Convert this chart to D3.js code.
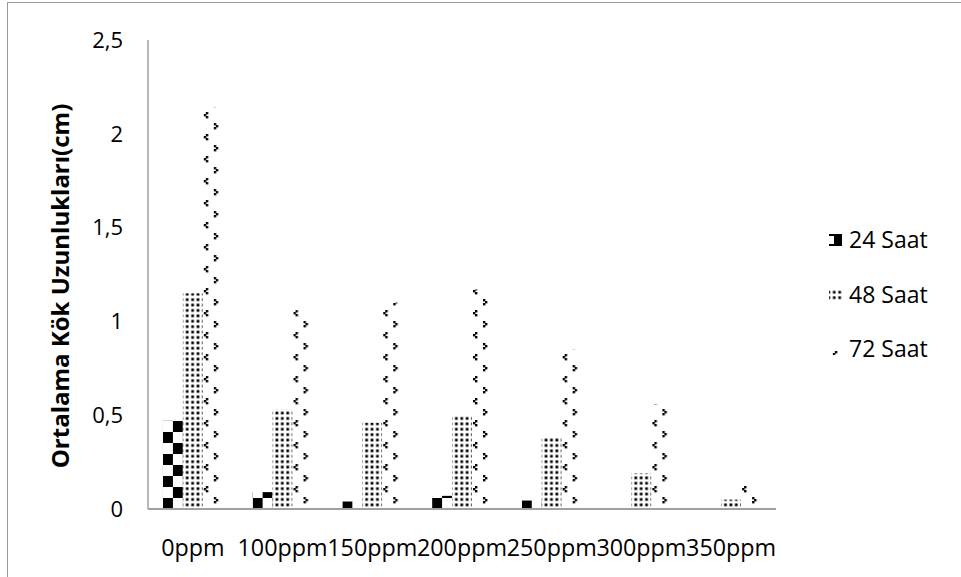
<!DOCTYPE html>
<html><head><meta charset="utf-8">
<script src="https://cdn.jsdelivr.net/npm/d3@7"></script>
<style>
body{margin:0;background:#fff}
svg{display:block}
text{font-family:"Open Sans",sans-serif;fill:#000}
</style>
</head><body>
<script>
// Root length (cm) by concentration and exposure time
const categories = ["0ppm","100ppm","150ppm","200ppm","250ppm","300ppm","350ppm"];
const seriesNames = ["24 Saat","48 Saat","72 Saat"];
const saat24 = [0.47, 0.09, 0.04, 0.07, 0.045, 0.005, 0];
const saat48 = [1.15, 0.53, 0.46, 0.50, 0.38, 0.19, 0.05];
const saat72 = [2.14, 1.06, 1.10, 1.17, 0.85, 0.56, 0.14];
const yTicks = [0, 0.5, 1, 1.5, 2, 2.5];
const yTickLabels = ["0","0,5","1","1,5","2","2,5"];
const yTitle = "Ortalama Kök Uzunlukları(cm)";

const W = 961, H = 577;
const plot = {x0: 148, x1: 776, y0: 509, y1: 40};
const seriesValues = [saat24, saat48, saat72];

const svg = d3.select("body").append("svg").attr("width", W).attr("height", H);
const defs = svg.append("defs");

// outer chart frame
svg.append("rect").attr("x", 7.5).attr("y", 2.5).attr("width", 1200).attr("height", 1200)
  .attr("fill", "none").attr("stroke", "#9a9a9a").attr("stroke-width", 1);

const x0 = d3.scaleBand().domain(categories).range([plot.x0, plot.x1])
  .paddingInner(1/3).paddingOuter(1/6);
const x1 = d3.scaleBand().domain(seriesNames).range([0, x0.bandwidth()]);
const y = d3.scaleLinear().domain([0, 2.5]).range([plot.y0, plot.y1]);

const bw = x1.bandwidth();
const cellW = bw / 2, cellH = 11;

// Patterns use each bar group's own coordinate space, so every bar
// starts its tiling at the same relative spot.
// checkerboard for the 24 h series, anchored to the bar's bottom-left corner
{
  const p = defs.append("pattern").attr("id", "chk")
    .attr("patternUnits", "userSpaceOnUse")
    .attr("x", x1(seriesNames[0])).attr("y", y(0) - cellH)
    .attr("width", cellW * 2).attr("height", cellH * 2);
  p.append("rect").attr("width", cellW * 2).attr("height", cellH * 2).attr("fill", "#fff");
  p.append("rect").attr("x", 0).attr("y", 0).attr("width", cellW).attr("height", cellH).attr("fill", "#000");
  p.append("rect").attr("x", cellW).attr("y", cellH).attr("width", cellW).attr("height", cellH).attr("fill", "#000");
}

// dotted grid for the 48 h series
const dp = defs.append("pattern").attr("id", "dots")
  .attr("patternUnits", "userSpaceOnUse").attr("width", 5.4).attr("height", 5.4);
dp.append("rect").attr("width", 5.4).attr("height", 5.4).attr("fill", "#fff");
dp.append("rect").attr("x", 1.3).attr("y", 1.3).attr("width", 2.7).attr("height", 2.7).attr("fill", "#000");

// staggered chevrons for the 72 h series
const cp = defs.append("pattern").attr("id", "chev")
  .attr("patternUnits", "userSpaceOnUse").attr("x", x1(seriesNames[2]) - 2).attr("y", 0)
  .attr("width", 22).attr("height", 22);
cp.append("rect").attr("width", 22).attr("height", 22).attr("fill", "#fff");
const dot = (g, dx, dy) => g.append("rect").attr("x", dx).attr("y", dy)
  .attr("width", 2.4).attr("height", 2.4).attr("fill", "#000");
// "<" mark
dot(cp, 5, 2); dot(cp, 3, 4); dot(cp, 5, 6);
// ">" mark
dot(cp, 13, 13); dot(cp, 15, 15); dot(cp, 13, 17);

const fills = ["url(#chk)", "url(#dots)", "url(#chev)"];

// bars
const groups = svg.append("g").selectAll("g").data(categories).join("g")
  .attr("transform", d => `translate(${x0(d)},0)`);
groups.selectAll("rect")
  .data((c, ci) => seriesNames.map((s, si) => ({s, si, v: seriesValues[si][ci]})))
  .join("rect")
  .attr("x", d => x1(d.s))
  .attr("y", d => y(d.v))
  .attr("width", bw)
  .attr("height", d => y(0) - y(d.v))
  .attr("fill", d => fills[d.si]);

// axes
const axisColor = "#a0a0a0";
svg.append("line").attr("x1", plot.x0).attr("x2", plot.x0)
  .attr("y1", plot.y1).attr("y2", plot.y0)
  .attr("stroke", axisColor).attr("stroke-width", 1.5);
svg.append("line").attr("x1", plot.x0).attr("x2", plot.x1)
  .attr("y1", plot.y0).attr("y2", plot.y0)
  .attr("stroke", axisColor).attr("stroke-width", 2);

svg.append("g").selectAll("text").data(yTicks).join("text")
  .attr("x", 123).attr("y", d => y(d))
  .attr("dy", "0.35em")
  .attr("text-anchor", "end")
  .style("font-size", "22px")
  .text((d, i) => yTickLabels[i]);

svg.append("g").selectAll("text").data(categories).join("text")
  .attr("x", d => x0(d) + x0.bandwidth() / 2).attr("y", 556)
  .attr("text-anchor", "middle")
  .style("font-size", "23.3px")
  .text(d => d);

svg.append("text")
  .attr("transform", `translate(69,286) rotate(-90)`)
  .attr("text-anchor", "middle")
  .style("font-size", "24px").style("font-weight", "bold")
  .text(yTitle);

// legend
const legY = [240, 295, 349];
const leg = svg.append("g").selectAll("g").data(seriesNames).join("g")
  .attr("transform", (d, i) => `translate(0,${legY[i]})`);
leg.filter((d, i) => i > 0).append("rect")
  .attr("x", 829).attr("y", -6).attr("width", 13).attr("height", 12)
  .attr("fill", (d, i) => fills[i + 1]);
// 24 h key: bracket with a solid block
leg.filter((d, i) => i === 0).append("path")
  .attr("d", "M829,-5 H835 V5 H829").attr("fill", "none").attr("stroke", "#000").attr("stroke-width", 2);
leg.filter((d, i) => i === 0).append("rect")
  .attr("x", 836).attr("y", -6).attr("width", 6).attr("height", 12).attr("fill", "#000");
leg.append("text").attr("x", 849).attr("y", 0).attr("dy", "0.35em")
  .style("font-size", "23px").text(d => d);
</script>
</body></html>
